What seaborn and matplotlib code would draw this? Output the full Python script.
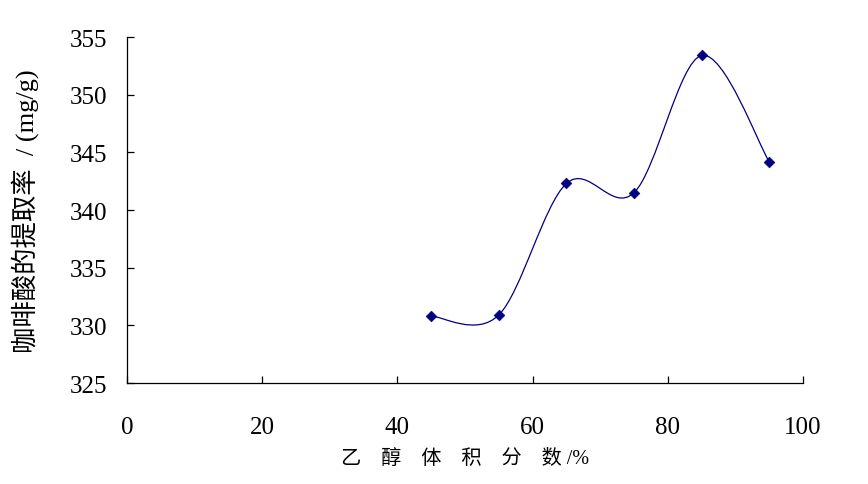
import numpy as np
import matplotlib
matplotlib.use("Agg")
import matplotlib.pyplot as plt
from matplotlib.path import Path
from matplotlib.patches import PathPatch
import seaborn as sns
import pandas as pd

# data
ethanol_pct = [45, 55, 65, 75, 85, 95]
yield_mg_g = [330.8, 330.9, 342.3, 341.5, 353.4, 344.2]

x_ticks = [0, 20, 40, 60, 80, 100]
y_ticks = [325, 330, 335, 340, 345, 350, 355]

sns.set_theme(style="white")
plt.rcParams['font.family'] = ['Liberation Serif', 'Noto Sans CJK SC']

df = pd.DataFrame({"x": ethanol_pct, "y": yield_mg_g})

fig = plt.figure(figsize=(8.68, 4.85), dpi=100)
ax = fig.add_axes([0.1463, 0.2082, 0.7788, 0.7134])

# smoothed line (Excel style Bezier through the points)
pts = df[["x", "y"]].to_numpy(dtype=float)
verts = [tuple(pts[0])]
codes = [Path.MOVETO]
n = len(pts)
for i in range(n - 1):
    p0 = pts[i - 1] if i > 0 else pts[i]
    p1 = pts[i]
    p2 = pts[i + 1]
    p3 = pts[i + 2] if i + 2 < n else pts[i + 1]
    c1 = p1 + (p2 - p0) / 6.0
    c2 = p2 - (p3 - p1) / 6.0
    verts += [tuple(c1), tuple(c2), tuple(p2)]
    codes += [Path.CURVE4] * 3
ax.add_patch(PathPatch(Path(verts, codes), fill=False, edgecolor="#000080", lw=0.9))

sns.scatterplot(data=df, x="x", y="y", marker="D", s=30, color="#000080",
                edgecolor="#000080", ax=ax, zorder=3)

ax.set_xlim(0, 100)
ax.set_ylim(325, 355)
ax.set_xticks(x_ticks)
ax.set_yticks(y_ticks)
ax.tick_params(axis="both", direction="in", length=5, width=0.9, colors="black",
               labelsize=18, bottom=True, left=True)
ax.tick_params(axis="x", pad=24)
ax.tick_params(axis="y", pad=14)
for s in ["top", "right"]:
    ax.spines[s].set_visible(False)
for s in ["left", "bottom"]:
    ax.spines[s].set_color("black")
    ax.spines[s].set_linewidth(0.9)

ax.set_xlabel("乙    醇    体    积    分    数 /%", fontsize=14.5, color="black")
ax.set_ylabel("咖啡酸的提取率  / (mg/g)", fontsize=19, color="black")
ax.xaxis.set_label_coords(0.5, -0.19)
ax.yaxis.set_label_coords(-0.13, 0.5)

fig.savefig("out.png", dpi=100)
